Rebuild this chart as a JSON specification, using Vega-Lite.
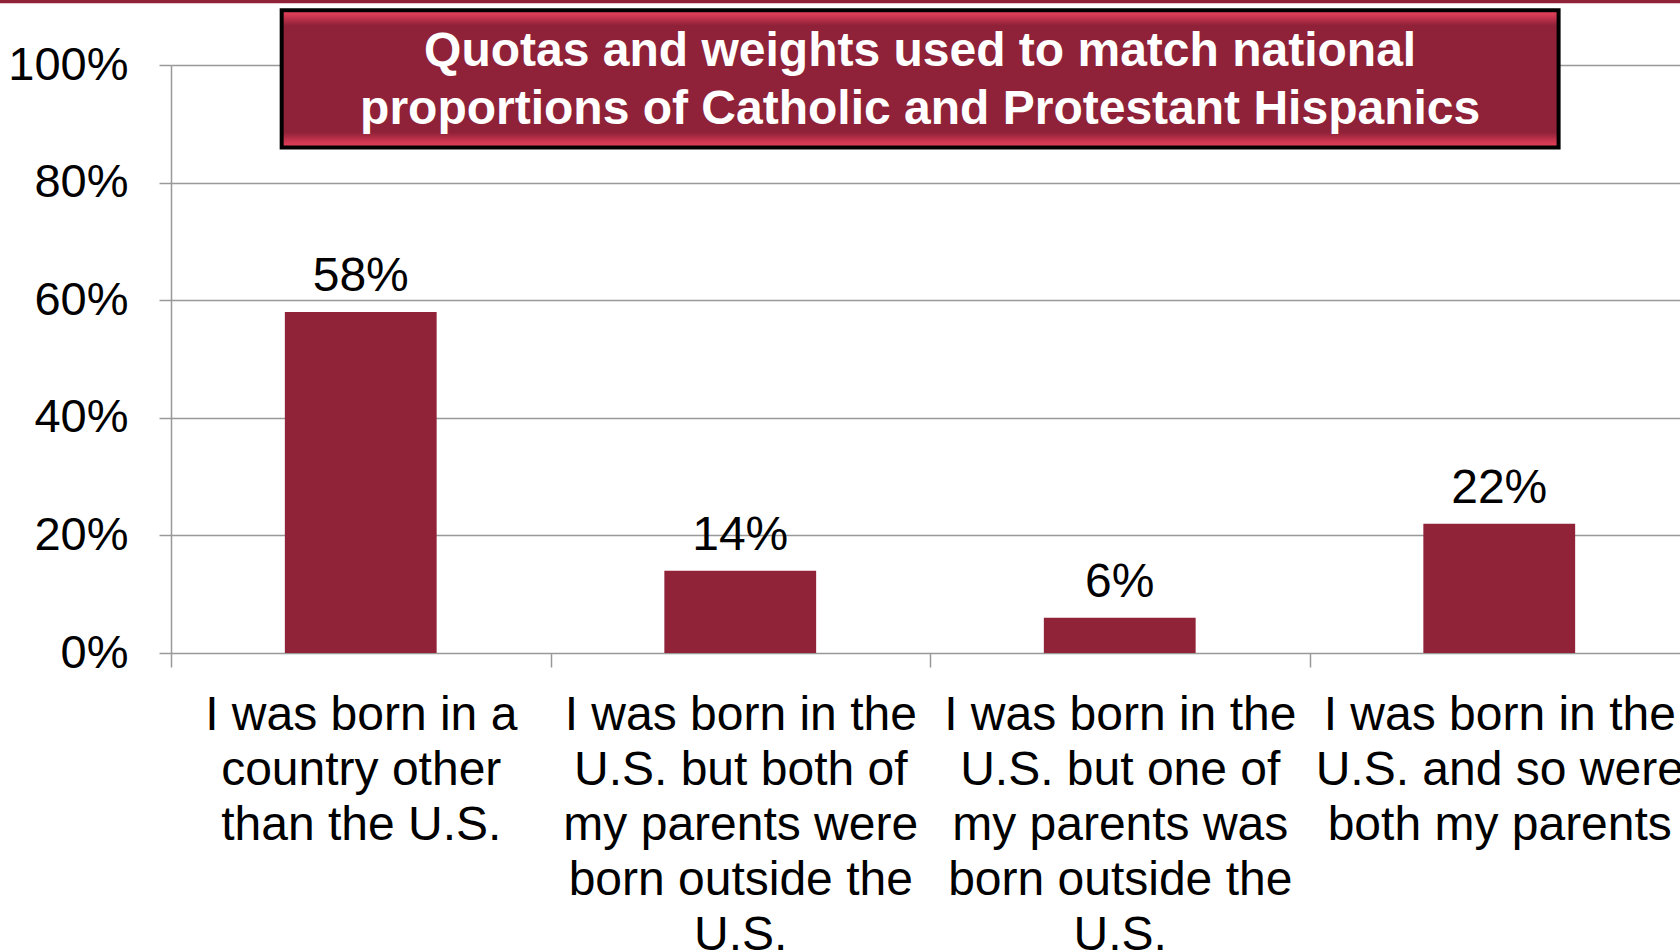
{
  "$schema": "https://vega.github.io/schema/vega-lite/v6.json",
  "autosize": {"type": "none"},
  "width": 1509,
  "height": 588,
  "padding": {"left": 171, "top": 65, "right": 0, "bottom": 297},
  "background": "white",
  "config": {
    "view": {"stroke": null},
    "font": "Liberation Sans",
    "text": {"font": "Liberation Sans"}
  },
  "datasets": {
    "bars": [
      {"category": "I was born in a country other than the U.S.", "share": 0.58},
      {"category": "I was born in the U.S. but both of my parents were born outside the U.S.", "share": 0.14},
      {"category": "I was born in the U.S. but one of my parents was born outside the U.S.", "share": 0.06},
      {"category": "I was born in the U.S. and so were both my parents", "share": 0.22}
    ],
    "titlebox": [
      {"x1": 0.0729, "x2": 0.9141, "y1": 0.8596, "y2": 1.093, "xc": 0.4935, "yc": 1.0215, "text": "Quotas and weights used to match national|proportions of Catholic and Protestant Hispanics"}
    ],
    "topline": [
      {"x1": -0.2, "x2": 1.2, "y": 1.1086}
    ]
  },
  "layer": [
    {
      "data": {"name": "bars"},
      "encoding": {
        "x": {
          "field": "category",
          "type": "nominal",
          "sort": null,
          "scale": {"range": [0, 1518], "paddingInner": 0, "paddingOuter": 0},
          "axis": {
            "title": null,
            "domain": false,
            "ticks": true,
            "tickBand": "extent",
            "tickSize": 14,
            "tickColor": "#999999",
            "tickWidth": 1.5,
            "labelAngle": 0,
            "labelFontSize": 48,
            "labelLineHeight": 55,
            "labelColor": "#000000",
            "labelFont": "Liberation Sans",
            "labelBaseline": "top",
            "labelAlign": "center",
            "labelPadding": 24,
            "labelLimit": 2000,
            "labelOverlap": false,
            "labelBound": false,
            "labelFlush": false,
            "labelExpr": "datum.value == 'I was born in a country other than the U.S.' ? ['I was born in a', 'country other', 'than the U.S.'] : datum.value == 'I was born in the U.S. but both of my parents were born outside the U.S.' ? ['I was born in the', 'U.S. but both of', 'my parents were', 'born outside the', 'U.S.'] : datum.value == 'I was born in the U.S. but one of my parents was born outside the U.S.' ? ['I was born in the', 'U.S. but one of', 'my parents was', 'born outside the', 'U.S.'] : datum.value == 'I was born in the U.S. and so were both my parents' ? ['I was born in the', 'U.S. and so were', 'both my parents'] : ''"
          }
        },
        "y": {
          "field": "share",
          "type": "quantitative",
          "scale": {"domain": [0, 1], "nice": false, "zero": true},
          "axis": {
            "title": null,
            "values": [0, 0.2, 0.4, 0.6, 0.8, 1],
            "format": ".0%",
            "grid": true,
            "gridColor": "#999999",
            "gridWidth": 1.5,
            "domain": true,
            "domainColor": "#999999",
            "domainWidth": 1.5,
            "ticks": true,
            "tickSize": 12,
            "tickColor": "#999999",
            "tickWidth": 1.5,
            "labelFontSize": 47,
            "labelColor": "#000000",
            "labelFont": "Liberation Sans",
            "labelPadding": 31,
            "labelBaseline": "middle",
            "labelFlush": false,
            "labelBound": false,
            "labelOverlap": false
          }
        }
      },
      "layer": [
        {
          "mark": {"type": "bar", "color": "#912339", "width": {"band": 0.4}}
        },
        {
          "mark": {"type": "text", "fontSize": 48, "font": "Liberation Sans", "color": "#000000", "baseline": "alphabetic", "align": "center", "dy": -21},
          "encoding": {
            "text": {"field": "share", "type": "quantitative", "format": ".0%"}
          }
        }
      ]
    },
    {
      "layer": [
        {
          "data": {"name": "topline"},
          "mark": {"type": "rule", "color": "#8f2238", "strokeWidth": 4, "clip": false},
          "encoding": {
            "x": {"field": "x1", "type": "quantitative", "scale": {"domain": [0, 1], "range": [0, 1518], "nice": false, "zero": false}, "axis": null},
            "x2": {"field": "x2"},
            "y": {"field": "y", "type": "quantitative", "scale": {"domain": [0, 1], "nice": false, "zero": false}, "axis": null}
          }
        },
        {
          "data": {"name": "titlebox"},
          "mark": {
            "type": "rect",
            "stroke": "#000000",
            "strokeWidth": 4,
            "fill": {
              "gradient": "linear",
              "x1": 0, "y1": 0, "x2": 0, "y2": 1,
              "stops": [
                {"offset": 0, "color": "#f2465f"},
                {"offset": 0.05, "color": "#c7344e"},
                {"offset": 0.11, "color": "#8f2238"},
                {"offset": 0.89, "color": "#8f2238"},
                {"offset": 0.95, "color": "#c7344e"},
                {"offset": 1, "color": "#e8425c"}
              ]
            }
          },
          "encoding": {
            "x": {"field": "x1", "type": "quantitative", "scale": {"domain": [0, 1], "range": [0, 1518], "nice": false, "zero": false}, "axis": null},
            "x2": {"field": "x2"},
            "y": {"field": "y1", "type": "quantitative", "scale": {"domain": [0, 1], "nice": false, "zero": false}, "axis": null},
            "y2": {"field": "y2"}
          }
        },
        {
          "data": {"name": "titlebox"},
          "mark": {"type": "text", "fontSize": 48, "fontWeight": "bold", "font": "Liberation Sans", "color": "#ffffff", "align": "center", "baseline": "middle", "lineHeight": 58, "lineBreak": "|"},
          "encoding": {
            "x": {"field": "xc", "type": "quantitative", "scale": {"domain": [0, 1], "range": [0, 1518], "nice": false, "zero": false}, "axis": null},
            "y": {"field": "yc", "type": "quantitative", "scale": {"domain": [0, 1], "nice": false, "zero": false}, "axis": null},
            "text": {"field": "text"}
          }
        }
      ]
    }
  ],
  "resolve": {"scale": {"x": "independent", "y": "independent"}, "axis": {"x": "independent", "y": "independent"}}
}
